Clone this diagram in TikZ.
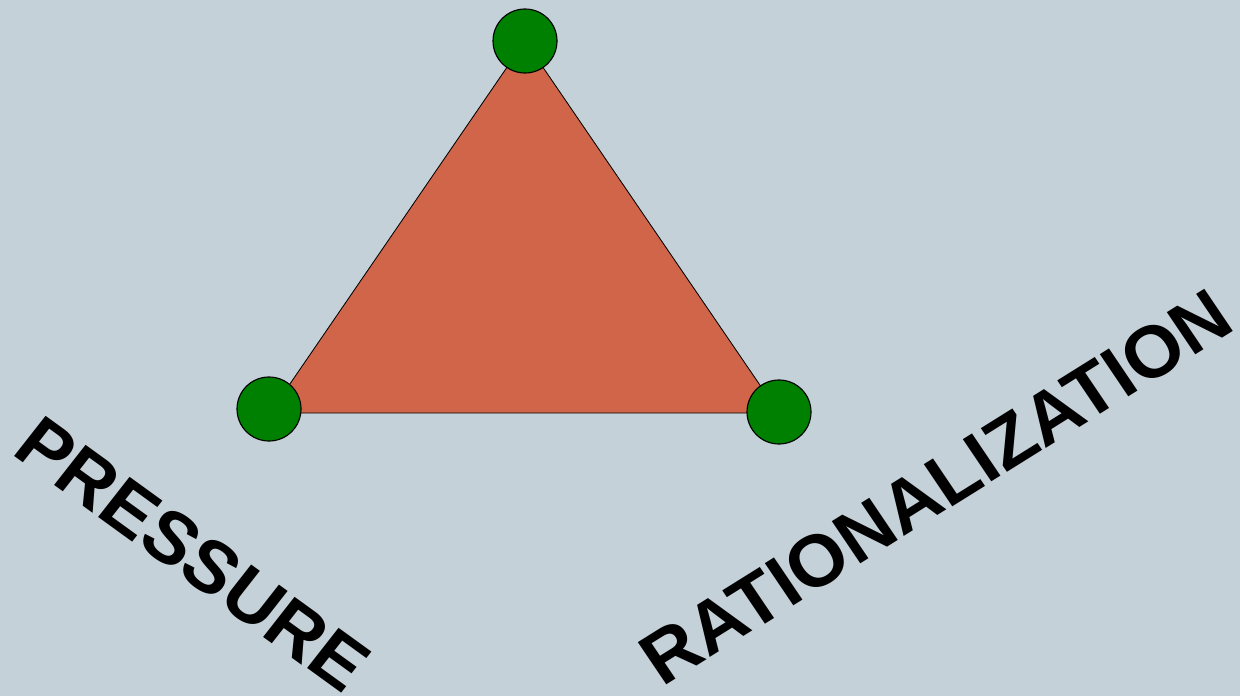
\documentclass[tikz,border=0pt]{standalone}
\usepackage{fontspec}
\setmainfont{Liberation Sans}
\definecolor{bgcol}{HTML}{C5D1D8}
\definecolor{tricol}{HTML}{D0654A}
\definecolor{dotcol}{HTML}{008000}
\begin{document}
\begin{tikzpicture}[x=0.025cm, y=-0.025cm,
	corner/.style={circle, draw, fill=dotcol, minimum size=1.6cm, inner sep=0pt, line width=0.8pt},
	word/.style={font=\fontsize{52}{52}\selectfont\bfseries, inner sep=0pt, xscale=1.04}]
		\fill[bgcol] (0, 0) rectangle (1240, 696);
		\coordinate (a) at (525, 41);
		\coordinate (b) at (270, 413);
		\coordinate (c) at (779, 413);
		\filldraw[fill=tricol, draw=black, line width=0.6pt] (a) -- (b) -- (c) -- cycle;
		\node[corner] (1) at (525, 41) {};
		\node[corner] (2) at (269, 409) {};
		\node[corner] (3) at (779, 412) {};
		\node[word, rotate=-37] (p) at (193, 554) {PRESSURE};
		\node[word, rotate=33] (r) at (936, 487) {RATIONALIZATION};
	\end{tikzpicture}
\end{document}
